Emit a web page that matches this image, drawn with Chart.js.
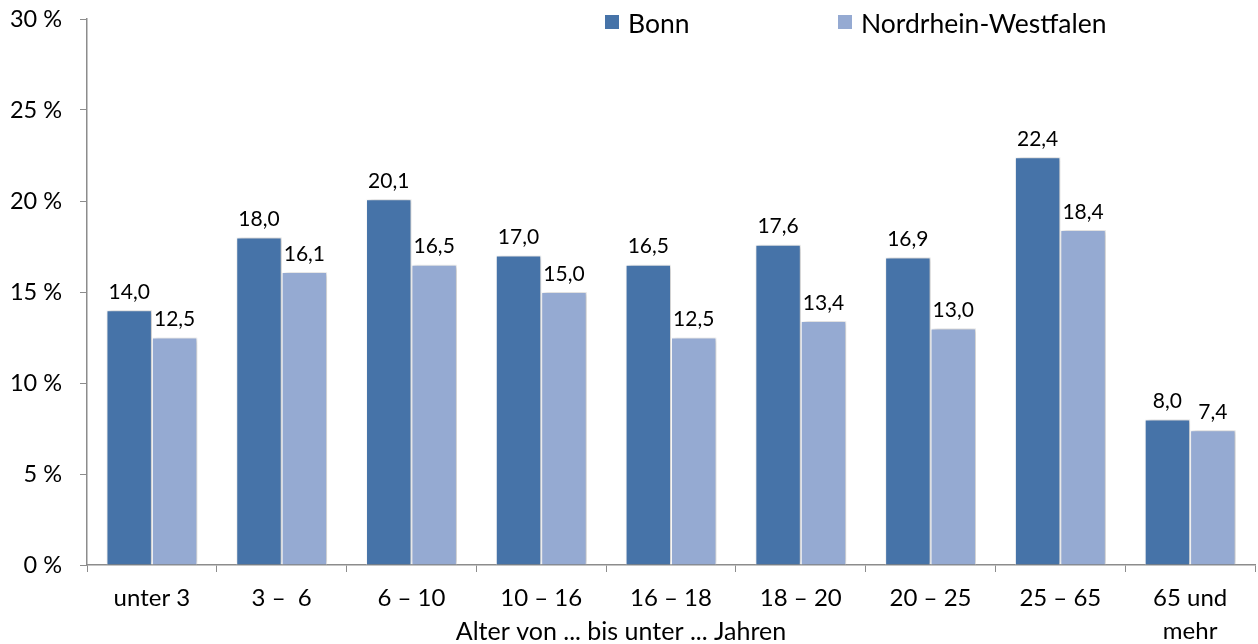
<!DOCTYPE html>
<html>
<head>
<meta charset="utf-8">
<script src="https://cdn.jsdelivr.net/npm/chart.js@4"></script>
<style>
html,body{margin:0;padding:0;background:#fff;}
#wrap{width:1258px;height:644px;position:relative;}
</style>
</head>
<body>
<div id="wrap"><canvas id="c" width="1258" height="644"></canvas></div>
<script>
const categories = ["unter 3", "3 –  6", "6 – 10", "10 – 16", "16 – 18", "18 – 20", "20 – 25", "25 – 65", ["65 und", "mehr"]];
const bonn = [14.0, 18.0, 20.1, 17.0, 16.5, 17.6, 16.9, 22.4, 8.0];
const nrw = [12.5, 16.1, 16.5, 15.0, 12.5, 13.4, 13.0, 18.4, 7.4];
const seriesNames = ["Bonn", "Nordrhein-Westfalen"];
const xTitle = "Alter von ... bis unter ... Jahren";
const yTicks = [0, 5, 10, 15, 20, 25, 30];

const FONT = "Lato";
const axisColor = "#8c8c8c";

const shadowPlugin = {
  id: "shadow",
  beforeDatasetsDraw(chart) {
    const ctx = chart.ctx;
    ctx.save();
    ctx.shadowColor = "rgba(0,0,0,0.28)";
    ctx.shadowBlur = 5;
    ctx.shadowOffsetX = 2;
    ctx.shadowOffsetY = 0;
  },
  afterDatasetsDraw(chart) {
    chart.ctx.restore();
  }
};

const labelPlugin = {
  id: "valueLabels",
  afterDatasetsDraw(chart) {
    const ctx = chart.ctx;
    ctx.save();
    ctx.fillStyle = "#000";
    ctx.font = "21px " + FONT;
    ctx.textAlign = "center";
    ctx.textBaseline = "middle";
    chart.data.datasets.forEach((ds, i) => {
      const meta = chart.getDatasetMeta(i);
      meta.data.forEach((bar, j) => {
        const txt = ds.data[j].toFixed(1).replace(".", ",");
        ctx.fillText(txt, bar.x, bar.y - 18);
      });
    });
    ctx.restore();
  }
};

const legendPlugin = {
  id: "customLegend",
  afterDraw(chart) {
    const ctx = chart.ctx;
    ctx.save();
    ctx.font = "26.5px " + FONT;
    ctx.textBaseline = "middle";
    const xs = [605, 838];
    chart.data.datasets.forEach((ds, i) => {
      ctx.fillStyle = ds.backgroundColor;
      ctx.fillRect(xs[i], 15, 14, 14);
      ctx.fillStyle = "#000";
      ctx.fillText(ds.label, xs[i] + 23, 24);
    });
    ctx.restore();
  }
};

const titlePlugin = {
  id: "xTitle",
  afterDraw(chart) {
    const ctx = chart.ctx;
    ctx.save();
    ctx.font = "25px " + FONT;
    ctx.fillStyle = "#000";
    ctx.textAlign = "center";
    ctx.textBaseline = "middle";
    ctx.fillText(xTitle, 621, 632);
    ctx.restore();
  }
};

new Chart(document.getElementById("c"), {
  type: "bar",
  data: {
    labels: categories,
    datasets: [
      { label: seriesNames[0], data: bonn, backgroundColor: "#4673a8", borderColor: "#ffffff", borderWidth: 1 },
      { label: seriesNames[1], data: nrw, backgroundColor: "#95aad2", borderColor: "#ffffff", borderWidth: 1 }
    ]
  },
  options: {
    responsive: false,
    animation: false,
    layout: { padding: { top: 19, right: 3, left: 0, bottom: 0 } },
    plugins: { legend: { display: false }, tooltip: { enabled: false } },
    datasets: { bar: { categoryPercentage: 0.7, barPercentage: 1.0 } },
    scales: {
      x: {
        grid: { drawOnChartArea: false, drawTicks: true, tickLength: 7, color: axisColor, offset: true },
        border: { color: axisColor, width: 1.5 },
        ticks: { color: "#000", font: { family: FONT, size: 24, lineHeight: 1.4 }, padding: 9, maxRotation: 0, autoSkip: false },
        afterFit(scale) { scale.height = 79; }
      },
      y: {
        min: 0, max: 30,
        afterBuildTicks(scale) { scale.ticks = yTicks.map(v => ({ value: v })); },
        grid: { drawOnChartArea: false, drawTicks: true, tickLength: 7, color: axisColor },
        border: { color: axisColor, width: 1.5 },
        ticks: { color: "#000", font: { family: FONT, size: 23.5 }, padding: 18, callback: v => v + " %" },
        afterFit(scale) { scale.width = 87; scale.paddingTop = 0; scale.paddingBottom = 0; }
      }
    }
  },
  plugins: [shadowPlugin, labelPlugin, legendPlugin, titlePlugin]
});
</script>
</body>
</html>
